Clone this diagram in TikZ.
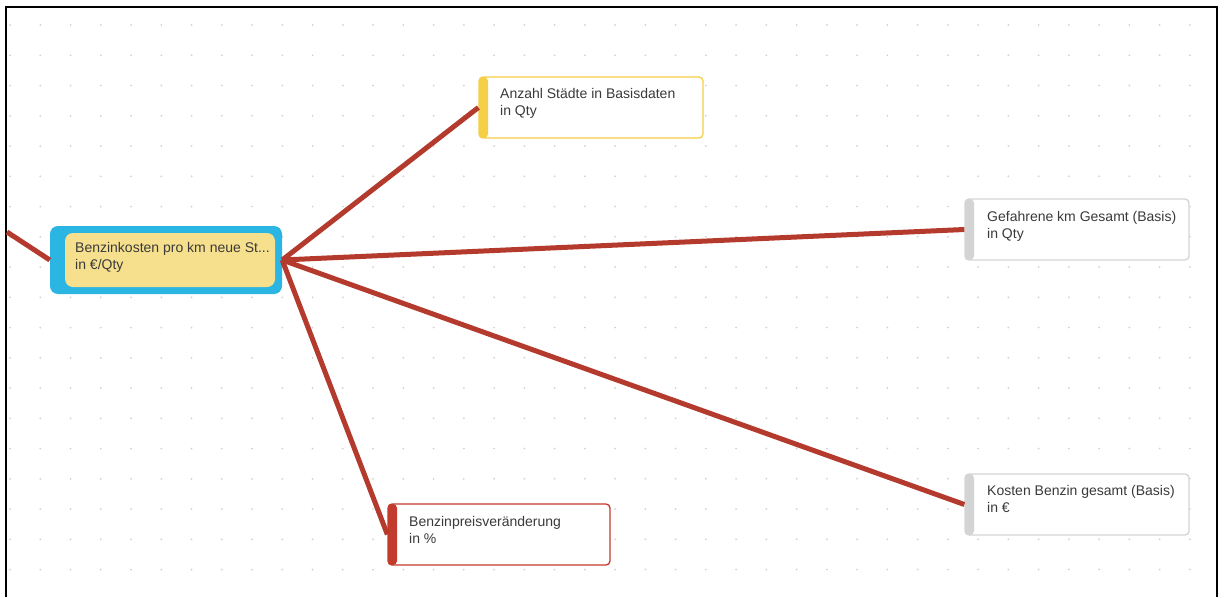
\documentclass[tikz,border=0pt]{standalone}
\usepackage{fontspec}
\setmainfont{Liberation Sans}
\definecolor{linkred}{HTML}{B33A2D}
\definecolor{selblue}{HTML}{2BB5E2}
\definecolor{selfill}{HTML}{F6E08D}
\definecolor{qtyyellow}{HTML}{F5CF45}
\definecolor{basegrey}{HTML}{D4D4D4}
\definecolor{pctred}{HTML}{C23B2C}
\definecolor{txtgrey}{HTML}{3A3A3A}
\definecolor{dotgrey}{HTML}{D2D2D2}
\tikzset{
  box/.style={rounded corners=4pt, line width=1.3pt, draw=#1, fill=white,
    minimum width=224pt, minimum height=61pt, inner sep=0pt,
    path picture={\fill[#1] (path picture bounding box.south west)
      rectangle ([xshift=9pt]path picture bounding box.north west);}},
  selbox/.style={rounded corners=8pt, fill=selblue,
    minimum width=232pt, minimum height=68pt, inner sep=0pt,
    path picture={\fill[selfill] ([xshift=15pt,yshift=7pt]path picture bounding box.south west)
      rectangle ([xshift=-7pt,yshift=-7pt]path picture bounding box.north east);}},
  txt/.style={font=\fontsize{14}{17}\selectfont, text=txtgrey, align=left,
    anchor=north west, inner sep=0pt},
  link/.style={draw=linkred, line width=5pt}
}
\begin{document}
\begin{tikzpicture}[x=1pt,y=-1pt]
    \useasboundingbox (0,0) rectangle (1225,597);
    \fill[white] (0,0) rectangle (1225,597);
    % dot grid
    \foreach \i in {0,...,39}
      \foreach \j in {0,...,18}
        \fill[dotgrey] (10+30.25*\i, 25+30.25*\j) circle (1pt);
    \draw[line width=2pt] (6,597) -- (6,7) -- (1217,7) -- (1217,597);

    \node[selbox] (main) at (166, 260) {};
    \node[txt] (mainT) at (75, 242) {Benzinkosten pro km neue St...\\in €/Qty};
    \node[box=qtyyellow] (anz) at (591, 107.5) {};
    \node[txt] (anzT) at (500, 88) {Anzahl Städte in Basisdaten\\in Qty};
    \node[box=basegrey] (km) at (1077, 229.5) {};
    \node[txt] (kmT) at (987, 211) {Gefahrene km Gesamt (Basis)\\in Qty};
    \node[box=basegrey] (kost) at (1077, 504.5) {};
    \node[txt] (kostT) at (987, 485) {Kosten Benzin gesamt (Basis)\\in €};
    \node[box=pctred, minimum width=222pt] (preis) at (499, 534.5) {};
    \node[txt] (preisT) at (409, 516) {Benzinpreisveränderung\\in \%};

    \coordinate (left) at (7, 232);
    \draw[link] (left) -- (main.west);
    \draw[link] (main.east) -- (anz.west);
    \draw[link] (main.east) -- (km.west);
    \draw[link] (main.east) -- (kost.west);
    \draw[link] (main.east) -- (preis.west);
\end{tikzpicture}
\end{document}
